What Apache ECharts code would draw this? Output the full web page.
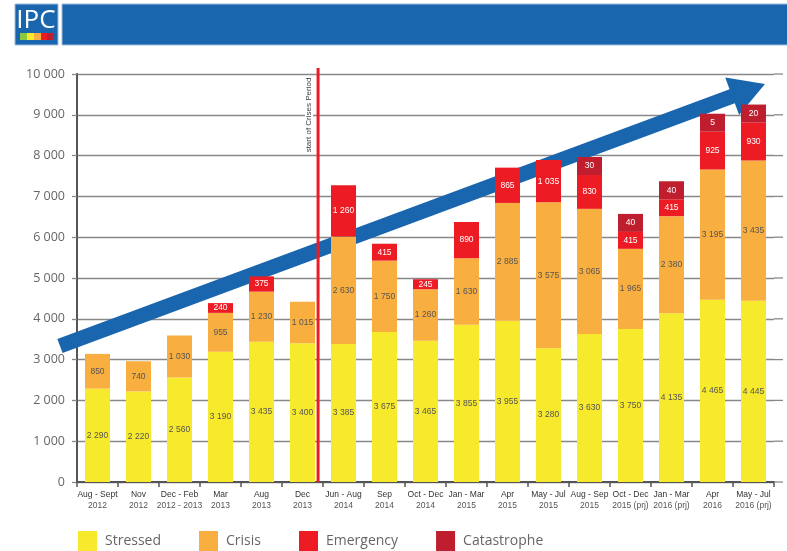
<!DOCTYPE html>
<html>
<head>
<meta charset="utf-8">
<script src="https://cdn.jsdelivr.net/npm/echarts@6/dist/echarts.min.js"></script>
<style>
html,body{margin:0;padding:0;background:#fff;}
#main{width:787px;height:551px;}
</style>
</head>
<body>
<div id="main"></div>
<script>
// ---- Data ----
const categories = [
  'Aug - Sept\n2012', 'Nov\n2012', 'Dec - Feb\n2012 - 2013', 'Mar\n2013', 'Aug\n2013', 'Dec\n2013',
  'Jun - Aug\n2014', 'Sep\n2014', 'Oct - Dec\n2014', 'Jan - Mar\n2015', 'Apr\n2015', 'May - Jul\n2015',
  'Aug - Sep\n2015', 'Oct - Dec\n2015 (prj)', 'Jan - Mar\n2016 (prj)', 'Apr\n2016', 'May - Jul\n2016 (prj)'
];
const stressed    = [2290, 2220, 2560, 3190, 3435, 3400, 3385, 3675, 3465, 3855, 3955, 3280, 3630, 3750, 4135, 4465, 4445];
const crisis      = [850, 740, 1030, 955, 1230, 1015, 2630, 1750, 1260, 1630, 2885, 3575, 3065, 1965, 2380, 3195, 3435];
const emergency   = [null, null, null, 240, 375, null, 1260, 415, 245, 890, 865, 1035, 830, 415, 415, 925, 930];
const catastrophe = [null, null, null, null, null, null, null, null, null, null, null, null, 30, 40, 40, 5, 20];
const yTicks = [0, 1000, 2000, 3000, 4000, 5000, 6000, 7000, 8000, 9000, 10000];
const seriesNames = ['Stressed', 'Crisis', 'Emergency', 'Catastrophe'];
// annotations (in axis units: x = category position 0..17, y = people)
const crisisStartX = 5.88;
const crisisLabel = 'start of Crises Period';
const arrowStart = [-0.415, 3333];
const arrowTip = [16.78, 9755];

// ---- Style ----
const colors = ['#f7e92c', '#f9ae40', '#ed1c24', '#be1e2d'];
const blue = '#1a66ae';
const small = "'Liberation Sans', Arial, sans-serif";

function fmt(v) {
  if (v == null) return '';
  if (v >= 1000) return Math.floor(v / 1000) + ' ' + String(v % 1000).padStart(3, '0');
  return String(v);
}

const chart = echarts.init(document.getElementById('main'));

function barSeries(name, data, color, labelColor, extra) {
  return Object.assign({
    name: name,
    type: 'bar',
    stack: 'total',
    barWidth: 25,
    data: data,
    z: 3,
    itemStyle: { color: color },
    label: {
      show: true,
      position: 'inside',
      fontFamily: small,
      fontSize: 8.5,
      color: labelColor,
      formatter: p => fmt(p.value)
    }
  }, extra || {});
}

const option = {
  animation: false,
  backgroundColor: '#fff',
  grid: { left: 77, right: 13, top: 74, bottom: 69, containLabel: false },
  legend: {
    data: seriesNames,
    left: 78,
    top: 531,
    padding: 0,
    itemWidth: 19,
    itemHeight: 20,
    itemGap: 38,
    icon: 'rect',
    textStyle: { fontFamily: "'Open Sans', sans-serif", fontSize: 14, color: '#666', padding: [0, 0, 0, 3] }
  },
  xAxis: [
    {
      type: 'category',
      data: categories,
      axisLine: { lineStyle: { color: '#555', width: 2 } },
      axisTick: { show: true, length: 5, lineStyle: { color: '#555', width: 1.5 } },
      axisLabel: {
        margin: 7,
        interval: 0,
        formatter: function (v) {
          const parts = v.split('\n');
          return '{a|' + parts[0] + '}\n{b|' + parts[1] + '}';
        },
        rich: {
          a: { fontFamily: small, fontSize: 8.5, color: '#333', lineHeight: 11 },
          b: { fontFamily: small, fontSize: 8.5, color: '#555', lineHeight: 11 }
        }
      }
    },
    { type: 'value', min: 0, max: 17, show: false, gridIndex: 0 }
  ],
  yAxis: {
    type: 'value',
    min: yTicks[0],
    max: yTicks[yTicks.length - 1],
    interval: 1000,
    axisLine: { show: true, lineStyle: { color: '#555', width: 2 } },
    axisTick: { show: true, length: 5, lineStyle: { color: '#888', width: 1.3 } },
    splitLine: { lineStyle: { color: '#888', width: 1.3 } },
    axisLabel: {
      margin: 12,
      fontFamily: "'Open Sans', sans-serif",
      fontSize: 12.5,
      color: '#666',
      formatter: v => fmt(v)
    }
  },
  series: [
    {
      type: 'custom',
      xAxisIndex: 1,
      yAxisIndex: 0,
      clip: false,
      silent: true,
      z: 2,
      data: [[0, 0]],
      renderItem: function (params, api) {
        const children = [];
        // extend the grid lines slightly beyond the last category, as in the original
        yTicks.forEach(function (t) {
          const a = api.coord([17, t]);
          children.push({ type: 'line', shape: { x1: a[0], y1: a[1], x2: a[0] + 9, y2: a[1] }, style: { stroke: '#888', lineWidth: 1.3 } });
        });
        const p0 = api.coord(arrowStart);
        const p1 = api.coord(arrowTip);
        const dx = p1[0] - p0[0], dy = p1[1] - p0[1];
        const L = Math.sqrt(dx * dx + dy * dy);
        const u = [dx / L, dy / L];
        const n = [-u[1], u[0]];
        const hw = 7.5, headLen = 35, headHw = 20;
        const base = [p1[0] - u[0] * headLen, p1[1] - u[1] * headLen];
        const P = (p, k) => [p[0] + n[0] * k, p[1] + n[1] * k];
        const pts = [P(p0, hw), P(base, hw), P(base, headHw), p1, P(base, -headHw), P(base, -hw), P(p0, -hw)];
        const lb = api.coord([crisisStartX, 0]);
        const lt = api.coord([crisisStartX, 10150]);
        const tp = api.coord([crisisStartX, 8995]);
        children.push({ type: 'polygon', shape: { points: pts }, style: { fill: blue } });
        children.push({ type: 'line', shape: { x1: lb[0], y1: lb[1], x2: lt[0], y2: lt[1] }, style: { stroke: '#ed1c24', lineWidth: 3 } });
        children.push({
          type: 'text', x: lb[0] - 9, y: tp[1], rotation: Math.PI / 2,
          style: {
            text: crisisLabel, fill: '#444', font: '8px ' + small,
            align: 'center', verticalAlign: 'middle', backgroundColor: '#fff', padding: [0, 1]
          }
        });
        return { type: 'group', children: children };
      }
    },
    barSeries(seriesNames[0], stressed, colors[0], '#555'),
    barSeries(seriesNames[1], crisis, colors[1], '#555'),
    barSeries(seriesNames[2], emergency, colors[2], '#fff'),
    barSeries(seriesNames[3], catastrophe, colors[3], '#fff', { barMinHeight: 18 })
  ],
  graphic: [
    { type: 'rect', shape: { x: 62, y: 4, width: 730, height: 41 }, style: { fill: blue, stroke: '#9fbcd9', lineWidth: 1 } },
    { type: 'rect', shape: { x: 15, y: 4, width: 43, height: 41 }, style: { fill: blue, stroke: '#9fbcd9', lineWidth: 1 } },
    { type: 'text', x: 36, y: 21, style: { text: 'IPC', fill: '#fff', font: '26px "Open Sans", sans-serif', align: 'center', verticalAlign: 'middle' } },
    { type: 'rect', shape: { x: 20, y: 33, width: 7, height: 7 }, style: { fill: '#8dc63f' } },
    { type: 'rect', shape: { x: 27, y: 33, width: 7, height: 7 }, style: { fill: colors[0] } },
    { type: 'rect', shape: { x: 34, y: 33, width: 7, height: 7 }, style: { fill: colors[1] } },
    { type: 'rect', shape: { x: 41, y: 33, width: 6, height: 7 }, style: { fill: colors[2] } },
    { type: 'rect', shape: { x: 47, y: 33, width: 6, height: 7 }, style: { fill: colors[3] } }
  ]
};

chart.setOption(option);
</script>
</body>
</html>
